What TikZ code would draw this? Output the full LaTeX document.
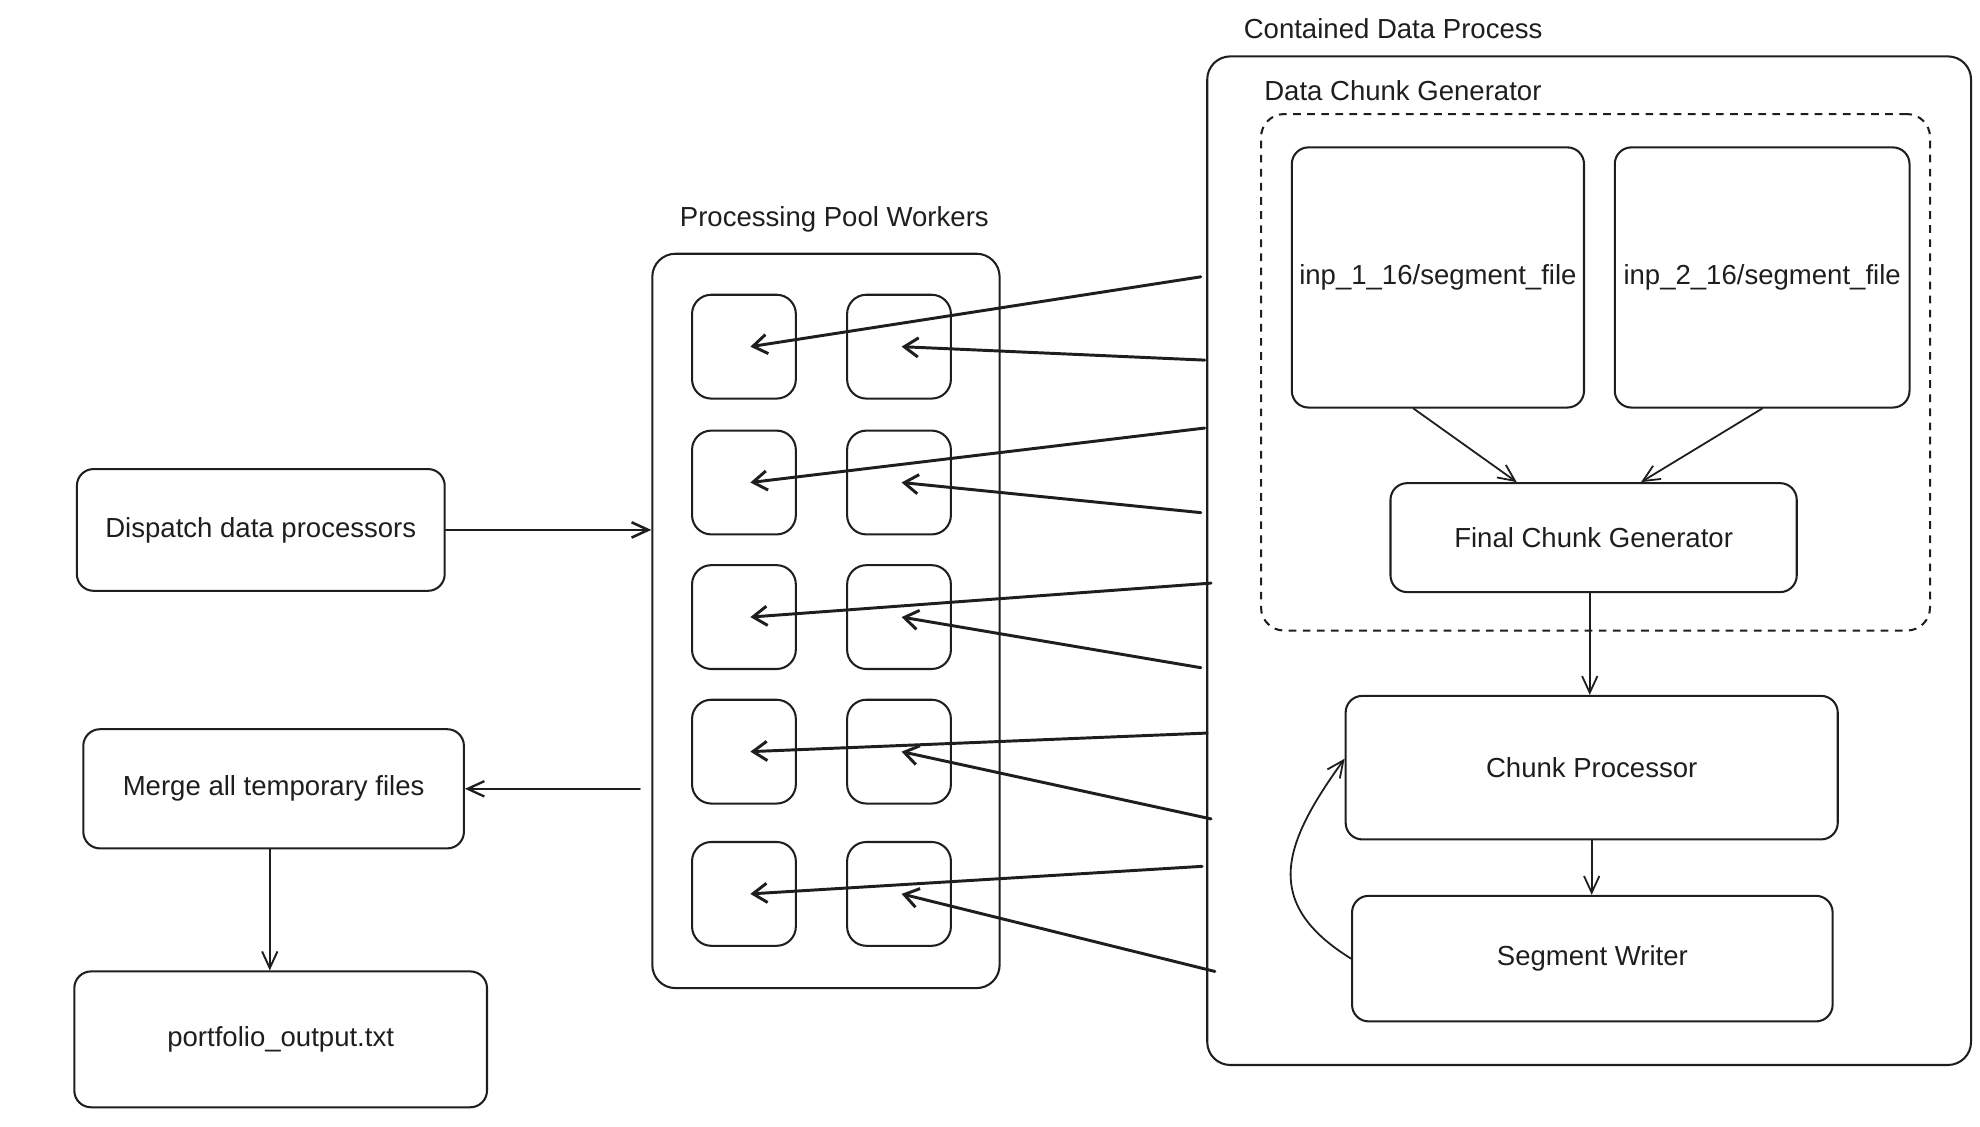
\documentclass[tikz,border=0pt]{standalone}
\usepackage{fontspec}
\setmainfont{Liberation Sans}
\usetikzlibrary{arrows.meta}
\usetikzlibrary{calc}
\definecolor{ink}{RGB}{30,30,30}
\tikzset{box/.style={draw=ink,line width=1.6pt,rounded corners=13pt,inner sep=0pt,align=center}}

\begin{document}
\begin{tikzpicture}[x=1pt,y=-1pt,font=\fontsize{21.5}{26}\selectfont,text=ink]
\tikzset{flow/.style={draw=ink,line width=1.4pt,line cap=round,-{Straight Barb[length=13pt,width=12pt]}}}
\tikzset{feed/.style={draw=ink,line width=2.3pt,line cap=round,-{Straight Barb[length=11pt,width=15pt]}}}
\useasboundingbox (0,0) rectangle (1545,879);
% left column
\node[box,minimum width=287pt,minimum height=95pt] (dispatch) at (203.5,413.5) {Dispatch data processors};
\node[box,minimum width=297pt,minimum height=93pt] (merge) at (213.5,615.5) {Merge all temporary files};
\node[box,minimum width=322pt,minimum height=106pt] (output) at (219,811) {portfolio\_output.txt};
% worker pool
\node[anchor=west] (poolLabel) at (527,171) {Processing Pool Workers};
\node[box,rounded corners=18pt,minimum width=271pt,minimum height=573pt] (pool) at (644.5,484.5) {};
\foreach \i/\y in {1/270.5,2/376.5,3/481.5,4/586.5,5/697.5}{
  \node[box,rounded corners=15pt,minimum size=81pt] (wL\i) at (580.5,\y) {};
  \node[box,rounded corners=15pt,minimum size=81pt] (wR\i) at (701.5,\y) {};
}
% contained process
\node[anchor=west] (cdpLabel) at (967,22) {Contained Data Process};
\node[box,rounded corners=18pt,minimum width=596pt,minimum height=787pt] (cdp) at (1240,437.5) {};
\node[anchor=west] (dcgLabel) at (983,71) {Data Chunk Generator};
\node[box,dash pattern=on 6pt off 5pt,rounded corners=18pt,minimum width=522pt,minimum height=403pt] (dcg) at (1245,290.5) {};
\node[box,minimum width=228pt,minimum height=203pt] (inpA) at (1122,216.5) {inp\_1\_16/segment\_file};
\node[box,minimum width=230pt,minimum height=203pt] (inpB) at (1375,216.5) {inp\_2\_16/segment\_file};
\node[box,minimum width=317pt,minimum height=85pt] (final) at (1243.5,419.5) {Final Chunk Generator};
\node[box,minimum width=384pt,minimum height=112pt] (cp) at (1242,599) {Chunk Processor};
\node[box,minimum width=375pt,minimum height=98pt] (sw) at (1242.5,748) {Segment Writer};

\draw[flow,line width=2pt] (dispatch.east) -- (pool.west |- dispatch.east);
\draw[flow,line width=1.8pt] ([xshift=-9pt]pool.west |- merge.east) -- (merge.east);
\draw[flow,line width=1.5pt] ([xshift=-3pt]merge.south) -- ([xshift=-3pt]merge.south |- output.north);
\draw[flow] ([xshift=-19pt]inpA.south) -- ([xshift=-60pt]final.north);
\draw[flow] (inpB.south) -- ([xshift=37pt]final.north);
\draw[flow] ([xshift=-3pt]final.south) -- ([xshift=-3pt]final.south |- cp.north);
\draw[flow] (cp.south) -- (cp.south |- sw.north);
\draw[flow] (sw.west) .. controls (985,705) and (1000,660) .. ([yshift=7pt]cp.west);

% feeds into the workers
\foreach \i/\xa/\ya/\xb/\yb in {1/937/216/940/281,2/940/334/937/400,3/945/455/937/521,4/942/572/945/639,5/938/676/948/758}{
  \coordinate (srcL\i) at (\xa,\ya);
  \coordinate (srcR\i) at (\xb,\yb);
  \draw[feed] (srcL\i) -- ([xshift=5pt]wL\i.center);
  \draw[feed] (srcR\i) -- ([xshift=2pt]wR\i.center);
}
\end{tikzpicture}
\end{document}
